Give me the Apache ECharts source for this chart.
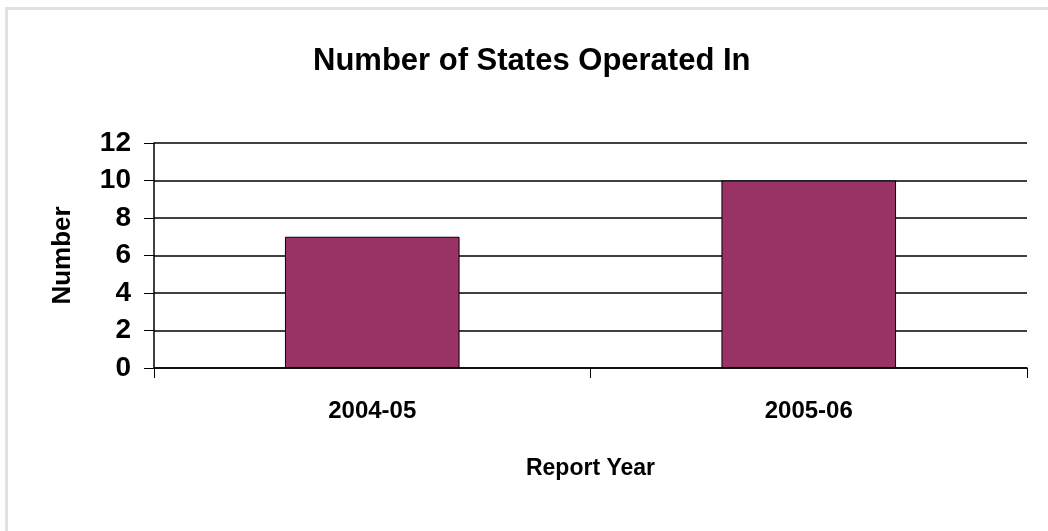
<!DOCTYPE html>
<html>
<head>
<meta charset="utf-8">
<script src="https://cdn.jsdelivr.net/npm/echarts@6/dist/echarts.min.js"></script>
<style>
  html, body { margin: 0; padding: 0; background: #fff; }
  #frame { position: absolute; left: 5px; top: 7px; width: 1043px; height: 524px;
           border-top: 3px solid #e1e0e4; border-left: 3px solid #e1e0e4; }
  #container { position: absolute; left: 0; top: 0; width: 1048px; height: 531px; }
</style>
</head>
<body>
<div id="frame"></div>
<div id="container"></div>
<script>
    // values
    var years = ['2004-05', '2005-06'];
    var states = [7, 10];
    var yTicks = [0, 2, 4, 6, 8, 10, 12];

    var font = 'Liberation Sans, Arial, sans-serif';
    var dom = document.getElementById('container');
    var myChart = echarts.init(dom);
    var option;
    option = {
        animation: false,
        title: {
            text: 'Number of States Operated In',
            left: 308,
            top: 41,
            textStyle: { fontFamily: font, fontSize: 31, fontWeight: 'bold', color: '#000' }
        },
        grid: { left: 154, right: 21, top: 143, bottom: 163 },
        xAxis: {
            type: 'category',
            data: years,
            name: 'Report Year',
            nameLocation: 'middle',
            nameGap: 89,
            nameTextStyle: { fontFamily: font, fontSize: 23, fontWeight: 'bold', color: '#000' },
            axisLine: { lineStyle: { color: '#000', width: 1.5 } },
            axisTick: { show: true, length: 10, lineStyle: { color: '#000', width: 1 } },
            axisLabel: { margin: 31, fontFamily: font, fontSize: 24, fontWeight: 'bold', color: '#000' }
        },
        yAxis: {
            type: 'value',
            min: yTicks[0],
            max: yTicks[yTicks.length - 1],
            interval: 2,
            name: 'Number',
            nameLocation: 'middle',
            nameGap: 78,
            nameRotate: 90,
            nameTextStyle: { fontFamily: font, fontSize: 26, fontWeight: 'bold', color: '#000' },
            axisLine: { show: true, lineStyle: { color: '#000', width: 1.5 } },
            axisTick: { show: true, length: 10, lineStyle: { color: '#000', width: 1 } },
            axisLabel: { margin: 23, fontFamily: font, fontSize: 28, fontWeight: 'bold', color: '#000' },
            splitLine: { show: true, lineStyle: { color: '#000', width: 1.5 } }
        },
        series: [
            {
                type: 'bar',
                data: states,
                barWidth: '40%',
                itemStyle: { color: '#993366', borderColor: '#000', borderWidth: 1 }
            }
        ]
    };

    if (option && typeof option === 'object') {
        myChart.setOption(option);
    }
</script>
</body>
</html>
